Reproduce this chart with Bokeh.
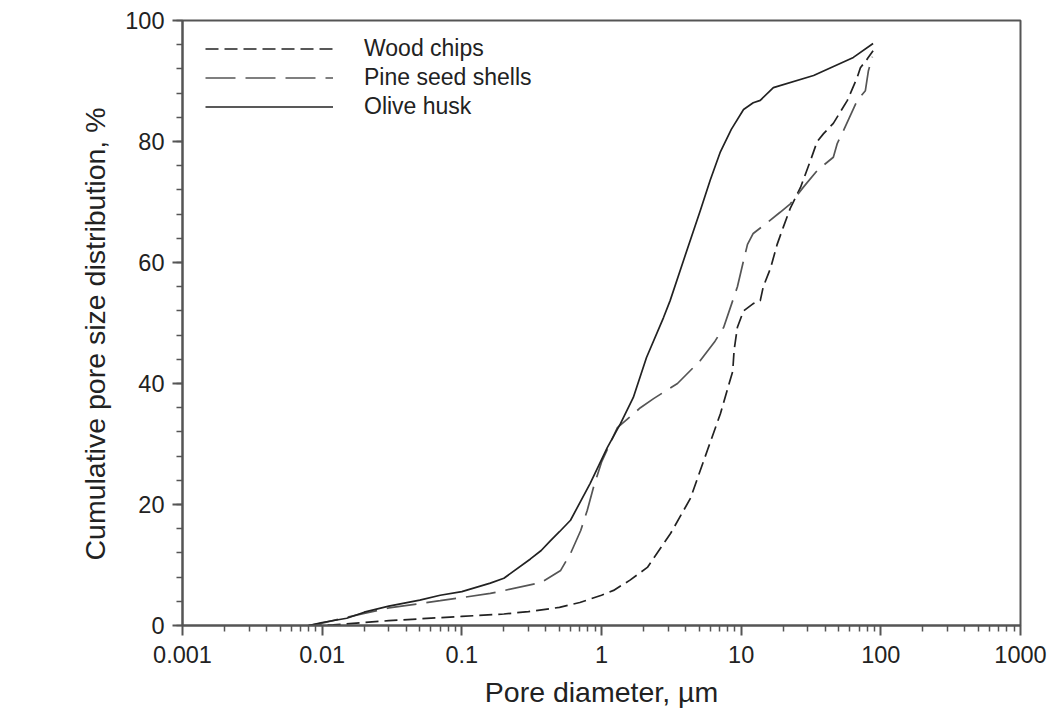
from bokeh.plotting import figure
from bokeh.models import (Range1d, FixedTicker, CustomJSTickFormatter, Legend, LegendItem, Title)
from bokeh.embed import file_html
from bokeh.resources import INLINE

# ---- data ----
wood_x = [0.008, 0.012, 0.02, 0.03, 0.05, 0.1, 0.2, 0.3, 0.5, 0.7, 1.0, 1.22, 1.6, 2.13,
          3.12, 4.33, 5.74, 7.1, 8.2, 8.7, 8.9, 9.4, 10.4, 12.2, 13.7, 14.4, 16.2, 18.1,
          20.0, 22.5, 26.6, 31.4, 35.0, 38.9, 45.7, 57.6, 67.8, 71.4, 80.3, 88.0]
wood_y = [0.0, 0.1, 0.5, 0.8, 1.1, 1.5, 1.9, 2.3, 3.0, 3.8, 5.0, 5.8, 7.5, 9.6,
          15.2, 21.0, 29.0, 35.0, 40.0, 42.0, 45.5, 49.3, 52.0, 53.2, 53.7, 56.0, 59.0, 63.0,
          65.8, 69.0, 72.4, 76.9, 80.0, 81.3, 83.0, 86.8, 90.6, 92.2, 93.7, 95.0]

pine_x = [0.008, 0.01, 0.02, 0.03, 0.07, 0.16, 0.37, 0.51, 0.6, 0.71, 0.79, 0.88, 1.0,
          1.3, 1.9, 2.36, 3.5, 5.1, 6.5, 7.5, 8.7, 9.4, 10.4, 11.1, 12.2, 15.4, 19.0,
          22.5, 28.0, 35.0, 45.7, 48.8, 54.0, 67.8, 77.5, 81.5, 87.0]
pine_y = [0.0, 0.4, 2.0, 2.9, 4.1, 5.3, 7.1, 9.1, 11.9, 15.7, 19.0, 23.0, 27.0,
          32.7, 36.0, 37.5, 40.0, 43.8, 47.0, 49.3, 53.7, 56.0, 60.3, 63.0, 64.8, 66.6, 68.3,
          69.7, 72.5, 75.2, 77.4, 79.7, 81.8, 86.8, 88.4, 91.7, 94.0]

olive_x = [0.008, 0.01, 0.015, 0.02, 0.03, 0.05, 0.07, 0.1, 0.16, 0.2, 0.31, 0.37, 0.43,
           0.5, 0.6, 0.83, 1.1, 1.37, 1.69, 2.1, 2.78, 3.1, 3.86, 5.1, 6.0, 7.1, 8.5,
           10.4, 12.2, 13.7, 17.0, 33.0, 63.6, 88.0]
olive_y = [0.0, 0.5, 1.2, 2.2, 3.2, 4.2, 5.0, 5.6, 7.0, 7.8, 11.0, 12.4, 14.0,
           15.5, 17.4, 23.5, 29.4, 33.4, 37.7, 44.3, 50.9, 53.7, 60.3, 68.6, 73.6, 78.3, 82.0,
           85.3, 86.4, 86.8, 88.9, 90.9, 93.9, 96.2]

series_names = ["Wood chips", "Pine seed shells", "Olive husk"]
x_major = [0.001, 0.01, 0.1, 1, 10, 100, 1000]
y_major = [0, 20, 40, 60, 80, 100]

FONT = "Liberation Sans"
DARK = "#222222"

p = figure(width=1049, height=715, x_axis_type="log",
           x_range=Range1d(0.001, 1000), y_range=Range1d(0, 100),
           output_backend="svg", toolbar_location=None,
           min_border_left=182, min_border_right=29, min_border_top=20, min_border_bottom=90,
           background_fill_color="white", border_fill_color="white")
p.xgrid.visible = False
p.ygrid.visible = False
p.outline_line_color = "#555555"
p.outline_line_width = 2

minor_x = [m * 10.0 ** e for e in range(-3, 3) for m in range(2, 10)]
p.xaxis.ticker = FixedTicker(ticks=x_major, minor_ticks=minor_x)
p.xaxis.formatter = CustomJSTickFormatter(code="return tick.toString();")
p.yaxis.ticker = FixedTicker(ticks=y_major, minor_ticks=list(range(0, 101, 4)))

for ax in (p.xaxis[0], p.yaxis[0]):
    ax.axis_line_color = "#555555"
    ax.axis_line_width = 2
    ax.major_tick_line_color = "#555555"
    ax.minor_tick_line_color = "#555555"
    ax.major_tick_line_width = 2
    ax.minor_tick_line_width = 1.5
    ax.major_tick_out = 10
    ax.major_tick_in = 0
    ax.minor_tick_out = 6
    ax.minor_tick_in = 0
    ax.major_label_text_font = FONT
    ax.major_label_text_font_size = "23.5px"
    ax.major_label_text_color = DARK
    ax.axis_label_text_font = FONT
    ax.axis_label_text_font_size = "28.5px"
    ax.axis_label_text_font_style = "normal"
    ax.axis_label_text_color = DARK

p.xaxis.axis_label = "Pore diameter, µm"
p.xaxis.major_label_standoff = 10
p.yaxis.major_label_standoff = 8
p.xaxis.axis_label_standoff = 10

ytitle = Title(text="Cumulative pore size distribution, %", align="left", offset=65,
               text_font=FONT, text_font_size="28.5px", text_font_style="normal",
               text_color=DARK, standoff=24)
p.add_layout(ytitle, "left")

r_wood = p.line(wood_x, wood_y, line_color="#222222", line_width=1.7, line_dash="13 6")
r_pine = p.line(pine_x, pine_y, line_color="#555555", line_width=1.7, line_dash="30 10")
r_olive = p.line(olive_x, olive_y, line_color="#222222", line_width=1.7)

legend = Legend(items=[LegendItem(label=series_names[0], renderers=[r_wood]),
                       LegendItem(label=series_names[1], renderers=[r_pine]),
                       LegendItem(label=series_names[2], renderers=[r_olive])],
                location=(23, 504), orientation="vertical",
                glyph_width=128, glyph_height=29, label_height=29, label_width=170,
                label_standoff=31, spacing=0, padding=0, margin=0,
                border_line_color=None, background_fill_alpha=0,
                label_text_font=FONT, label_text_font_size="23px",
                label_text_color=DARK)
p.add_layout(legend, "center")

open("out.html", "w").write(file_html(p, INLINE))
